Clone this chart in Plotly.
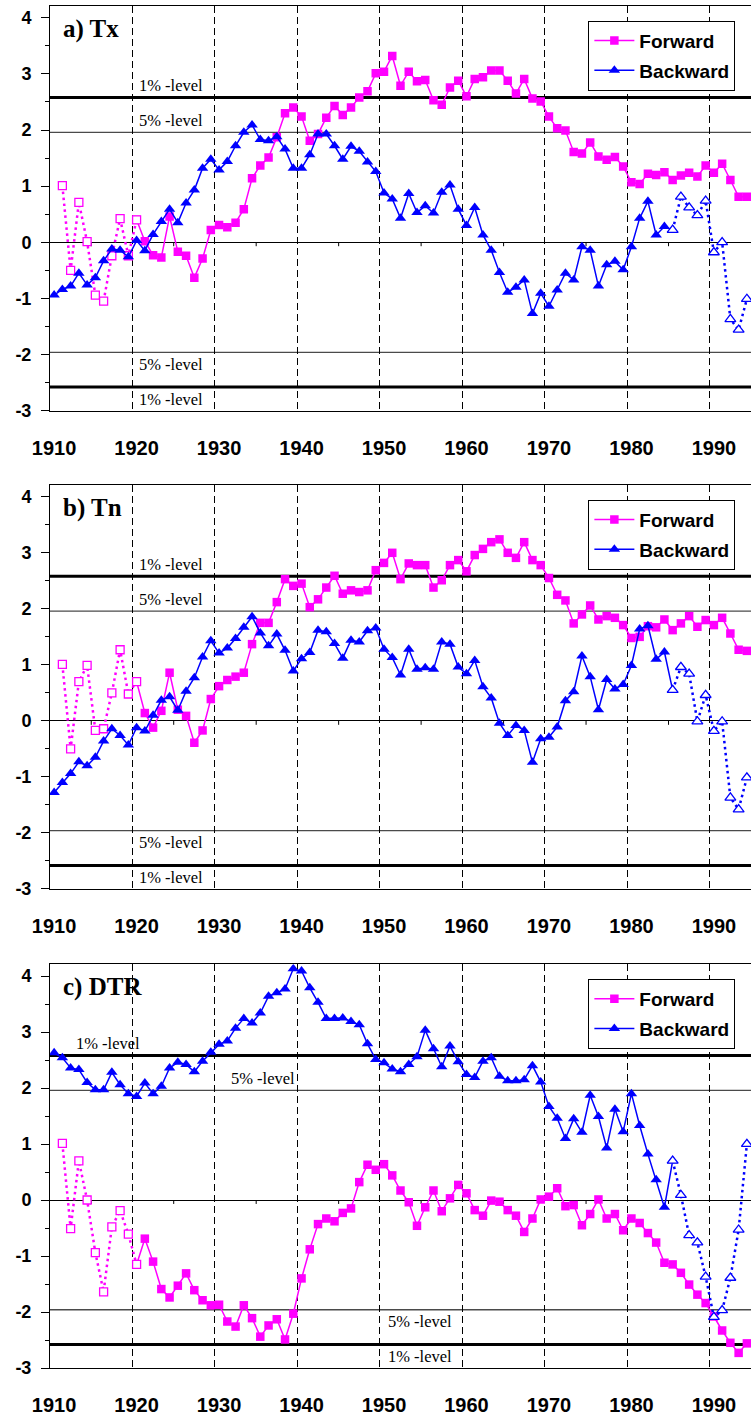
import plotly.graph_objects as go

# ---------------------------------------------------------------- data
years_fwd = list(range(1911, 1995))   # forward sequential statistic u(t)
years_bwd = list(range(1910, 1995))   # backward sequential statistic u'(t)
decade_labels = list(range(1910, 2000, 10))
y_tick_values = [-3, -2, -1, 0, 1, 2, 3, 4]

tx_forward = [
    1.01, -0.50, 0.71, 0.01, -0.94, -1.05, -0.24, 0.42, -0.24, 0.40,
    0.02, -0.23, -0.27, 0.46, -0.17, -0.24, -0.63, -0.29, 0.22, 0.31,
    0.27, 0.35, 0.59, 1.14, 1.37, 1.51, 1.87, 2.30, 2.40, 2.24,
    1.81, 1.93, 2.22, 2.43, 2.27, 2.40, 2.58, 2.69, 3.01, 3.04,
    3.32, 2.79, 3.04, 2.87, 2.89, 2.53, 2.45, 2.76, 2.88, 2.60,
    2.91, 2.94, 3.06, 3.06, 2.88, 2.65, 2.91, 2.56, 2.51, 2.24,
    2.03, 1.99, 1.61, 1.58, 1.78, 1.53, 1.47, 1.52, 1.35, 1.07,
    1.04, 1.22, 1.20, 1.25, 1.11, 1.19, 1.24, 1.17, 1.37, 1.24,
    1.40, 1.11, 0.81, 0.81,
]
tx_backward = [
    -0.94, -0.84, -0.78, -0.55, -0.76, -0.63, -0.33, -0.12, -0.14, -0.26,
    0.03, -0.15, 0.14, 0.37, 0.59, 0.35, 0.70, 0.93, 1.32, 1.48,
    1.29, 1.44, 1.72, 1.96, 2.09, 1.83, 1.81, 1.88, 1.66, 1.32,
    1.32, 1.56, 1.93, 1.93, 1.72, 1.48, 1.71, 1.62, 1.43, 1.26,
    0.88, 0.77, 0.43, 0.87, 0.53, 0.65, 0.52, 0.89, 1.02, 0.59,
    0.30, 0.62, 0.13, -0.14, -0.54, -0.89, -0.80, -0.67, -1.27, -0.91,
    -1.14, -0.85, -0.55, -0.67, -0.08, -0.14, -0.78, -0.40, -0.34, -0.49,
    -0.08, 0.43, 0.73, 0.13, 0.28, 0.22, 0.81, 0.62, 0.48, 0.74,
    -0.18, 0.00, -1.37, -1.56, -1.01,
]
tn_forward = [
    1.01, -0.50, 0.70, 0.99, -0.17, -0.14, 0.50, 1.27, 0.48, 0.70,
    0.14, -0.12, 0.18, 0.86, 0.20, 0.09, -0.39, -0.17, 0.39, 0.62,
    0.73, 0.79, 0.86, 1.37, 1.75, 1.75, 2.12, 2.53, 2.41, 2.45,
    2.03, 2.17, 2.38, 2.59, 2.27, 2.33, 2.30, 2.33, 2.69, 2.82,
    3.00, 2.53, 2.81, 2.78, 2.78, 2.38, 2.51, 2.78, 2.87, 2.67,
    2.96, 3.07, 3.19, 3.24, 3.00, 2.91, 3.19, 2.87, 2.78, 2.55,
    2.25, 2.15, 1.74, 1.90, 2.06, 1.81, 1.87, 1.84, 1.71, 1.48,
    1.50, 1.69, 1.67, 1.81, 1.62, 1.74, 1.87, 1.68, 1.80, 1.71,
    1.84, 1.56, 1.27, 1.25,
]
tn_backward = [
    -1.28, -1.10, -0.94, -0.73, -0.80, -0.65, -0.36, -0.14, -0.26, -0.43,
    -0.12, -0.18, 0.10, 0.37, 0.43, 0.19, 0.53, 0.77, 1.14, 1.43,
    1.21, 1.30, 1.47, 1.67, 1.86, 1.57, 1.34, 1.55, 1.26, 0.89,
    1.11, 1.22, 1.62, 1.59, 1.38, 1.12, 1.44, 1.41, 1.61, 1.66,
    1.28, 1.13, 0.82, 1.28, 0.92, 0.95, 0.92, 1.41, 1.37, 0.96,
    0.84, 1.08, 0.61, 0.41, -0.04, -0.26, -0.08, -0.17, -0.74, -0.32,
    -0.29, -0.11, 0.36, 0.52, 1.16, 0.79, 0.20, 0.74, 0.57, 0.65,
    0.99, 1.64, 1.70, 1.10, 1.23, 0.55, 0.96, 0.84, -0.01, 0.46,
    -0.18, -0.01, -1.37, -1.58, -1.01,
]
dtr_forward = [
    1.01, -0.51, 0.70, 0.00, -0.94, -1.64, -0.48, -0.19, -0.61, -1.15,
    -0.69, -1.10, -1.59, -1.74, -1.53, -1.31, -1.61, -1.79, -1.88, -1.87,
    -2.17, -2.26, -1.88, -2.11, -2.44, -2.24, -2.13, -2.49, -2.03, -1.40,
    -0.88, -0.43, -0.33, -0.38, -0.23, -0.15, 0.32, 0.63, 0.54, 0.64,
    0.44, 0.17, -0.04, -0.46, -0.13, 0.17, -0.20, 0.03, 0.27, 0.12,
    -0.18, -0.28, -0.01, -0.03, -0.18, -0.28, -0.57, -0.33, 0.01, 0.06,
    0.21, -0.11, -0.09, -0.45, -0.25, 0.01, -0.33, -0.25, -0.54, -0.33,
    -0.41, -0.59, -0.76, -1.12, -1.15, -1.30, -1.51, -1.69, -1.84, -2.08,
    -2.33, -2.55, -2.73, -2.56,
]
dtr_backward = [
    2.63, 2.54, 2.36, 2.33, 2.10, 1.97, 1.97, 2.28, 2.06, 1.90,
    1.85, 2.09, 1.90, 2.03, 2.36, 2.46, 2.42, 2.29, 2.48, 2.64,
    2.78, 2.84, 3.07, 3.24, 3.16, 3.34, 3.64, 3.70, 3.77, 4.13,
    4.09, 3.79, 3.53, 3.24, 3.24, 3.25, 3.19, 3.13, 2.79, 2.51,
    2.45, 2.34, 2.29, 2.42, 2.56, 3.03, 2.70, 2.38, 2.75, 2.47,
    2.24, 2.19, 2.48, 2.54, 2.21, 2.13, 2.13, 2.15, 2.40, 2.11,
    1.67, 1.46, 1.10, 1.45, 1.21, 1.87, 1.49, 0.93, 1.62, 1.22,
    1.90, 1.33, 0.82, 0.36, -0.13, 0.70, 0.09, -0.63, -0.76, -1.37,
    -2.09, -1.97, -1.39, -0.53, 1.00,
]

FWD_OPEN_END = 1920      # forward values up to here are shown hollow
BWD_OPEN_START = 1985    # backward values from here on are shown hollow
CRIT_1 = 2.58            # 1% two-sided critical value
CRIT_5 = 1.96            # 5% two-sided critical value

# --------------------------------------------------------------- style
MAGENTA = "#FF00FF"
BLUE = "#0000FF"
SANS = "Liberation Sans, Arial, sans-serif"
SERIF = "Liberation Serif, Times New Roman, serif"
Y_RANGE = [-3, 4.21]
X_RANGE = [1909.5, 1994.5]

panels = [
    dict(title="a) Tx", fwd=tx_forward, bwd=tx_backward,
         domain=[0.7029, 1.0], legend_y=0.9892,
         lab_up=(1920.1, 1920.1), lab_dn=(1920.1, 1920.1)),
    dict(title="b) Tn", fwd=tn_forward, bwd=tn_backward,
         domain=[0.3517, 0.6483], legend_y=0.6375,
         lab_up=(1920.1, 1920.1), lab_dn=(1920.1, 1920.1)),
    dict(title="c) DTR", fwd=dtr_forward, bwd=dtr_backward,
         domain=[0.0, 0.2964], legend_y=0.2856,
         lab_up=(1912.4, 1931.2), lab_dn=(1950.2, 1950.2)),
]

fig = go.Figure()
shapes = []
annotations = []

grid_breaks = [d + 9.5 for d in decade_labels[:-1]]
zero_ticks = [d + 4.5 for d in decade_labels[:-1]]

for i, p in enumerate(panels, start=1):
    sfx = "" if i == 1 else str(i)
    xa, ya = "x" + sfx, "y" + sfx
    leg = "legend" + sfx

    fx_solid = [y for y in years_fwd if y >= FWD_OPEN_END]
    fy_solid = [v for y, v in zip(years_fwd, p["fwd"]) if y >= FWD_OPEN_END]
    fx_open = [y for y in years_fwd if y <= FWD_OPEN_END]
    fy_open = [v for y, v in zip(years_fwd, p["fwd"]) if y <= FWD_OPEN_END]
    bx_solid = [y for y in years_bwd if y <= BWD_OPEN_START]
    by_solid = [v for y, v in zip(years_bwd, p["bwd"]) if y <= BWD_OPEN_START]
    bx_open = [y for y in years_bwd if y >= BWD_OPEN_START]
    by_open = [v for y, v in zip(years_bwd, p["bwd"]) if y >= BWD_OPEN_START]

    fig.add_trace(go.Scatter(
        x=fx_solid, y=fy_solid, mode="lines+markers", name="Forward",
        xaxis=xa, yaxis=ya, legend=leg, legendgroup=f"f{i}",
        line=dict(color=MAGENTA, width=1.5),
        marker=dict(symbol="square", size=8.5, color=MAGENTA)))
    fig.add_trace(go.Scatter(
        x=fx_open, y=fy_open, mode="lines+markers", showlegend=False,
        xaxis=xa, yaxis=ya,
        line=dict(color=MAGENTA, width=2.5, dash="2.5px,3.5px"),
        marker=dict(symbol="square", size=8, color="white",
                    line=dict(color=MAGENTA, width=1.3))))
    fig.add_trace(go.Scatter(
        x=bx_solid, y=by_solid, mode="lines+markers", name="Backward",
        xaxis=xa, yaxis=ya, legend=leg, legendgroup=f"b{i}",
        line=dict(color=BLUE, width=1.5),
        marker=dict(symbol="triangle-up", size=10, color=BLUE)))
    fig.add_trace(go.Scatter(
        x=bx_open, y=by_open, mode="lines+markers", showlegend=False,
        xaxis=xa, yaxis=ya,
        line=dict(color=BLUE, width=2.5, dash="2.5px,3.5px"),
        marker=dict(symbol="triangle-up", size=9.5, color="white",
                    line=dict(color=BLUE, width=1.3))))

    fig.update_layout({
        "xaxis" + sfx: dict(
            domain=[0, 1], anchor=ya, range=X_RANGE,
            tickmode="array", tickvals=decade_labels,
            ticktext=[str(d) for d in decade_labels],
            ticks="", showgrid=False, zeroline=False,
            showline=True, mirror=True, linecolor="black", linewidth=1,
            tickfont=dict(family=SANS, size=20, color="black", weight="bold"),
            ticklabelstandoff=19,
            minor=dict(tickmode="array", tickvals=grid_breaks, ticks="",
                       showgrid=True, gridcolor="black", gridwidth=1,
                       griddash="7px,4px"),
        ),
        "yaxis" + sfx: dict(
            domain=p["domain"], anchor=xa, range=Y_RANGE,
            tickmode="array", tickvals=y_tick_values,
            ticktext=[str(v) for v in y_tick_values],
            ticks="outside", ticklen=8, tickcolor="black",
            showgrid=False, zeroline=True, zerolinecolor="black",
            zerolinewidth=1, showline=True, linecolor="black", linewidth=1,
            tickfont=dict(family=SANS, size=18, color="black", weight="bold"),
            ticklabelstandoff=6,
            minor=dict(dtick=0.5, ticks="outside", ticklen=4,
                       tickcolor="black", showgrid=False),
        ),
        leg: dict(
            x=0.768, y=p["legend_y"], xanchor="left", yanchor="top",
            xref="paper", yref="paper",
            bgcolor="white", bordercolor="black", borderwidth=1,
            font=dict(family=SANS, size=19, color="black", weight="bold"),
            tracegroupgap=2, itemwidth=40,
        ),
    })

    # significance thresholds
    for lvl, w, col in ((CRIT_1, 3, "black"), (CRIT_5, 1.3, "#4a4a4a")):
        for sgn in (1, -1):
            shapes.append(dict(
                type="line", xref=xa + " domain", yref=ya,
                x0=0, x1=1, y0=sgn * lvl, y1=sgn * lvl,
                line=dict(color=col, width=w), layer="below"))
    # small tick marks on the zero line
    for zt in zero_ticks:
        shapes.append(dict(
            type="line", xref=xa, yref=ya, x0=zt, x1=zt, y0=0, y1=-0.07,
            line=dict(color="black", width=1), layer="below"))

    # level labels
    lab_font = dict(family=SERIF, size=16.5, color="black")
    for text, xpos, yval, shift in (
        ("1% -level", p["lab_up"][0], CRIT_1, 12),
        ("5% -level", p["lab_up"][1], CRIT_5, 12),
        ("5% -level", p["lab_dn"][0], -CRIT_5, -12),
        ("1% -level", p["lab_dn"][1], -CRIT_1, -12),
    ):
        annotations.append(dict(
            text=text, xref=xa, yref=ya, x=xpos, y=yval, yshift=shift,
            xanchor="left", yanchor="middle", showarrow=False, font=lab_font))

    annotations.append(dict(
        text="<b>" + p["title"] + "</b>", xref=xa + " domain",
        yref=ya + " domain", x=0.016, y=0.943, xanchor="left",
        yanchor="middle", showarrow=False,
        font=dict(family=SERIF, size=25, color="black")))

fig.update_layout(
    width=751, height=1416,
    margin=dict(l=50, r=0, t=6, b=48),
    paper_bgcolor="white", plot_bgcolor="white",
    shapes=shapes, annotations=annotations,
)

fig.write_html("out.html")
